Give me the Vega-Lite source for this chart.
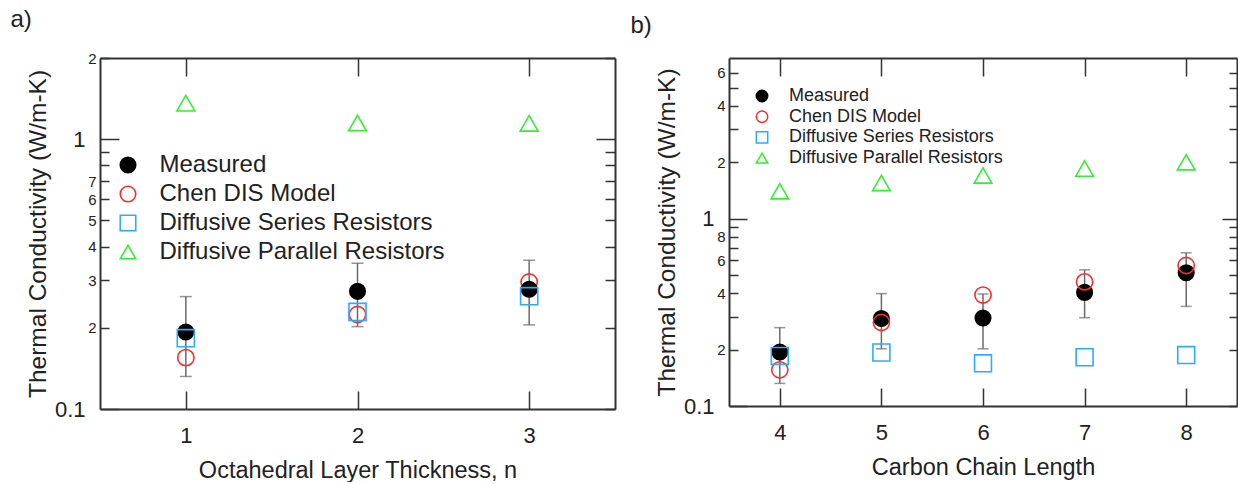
{
  "$schema": "https://vega.github.io/schema/vega-lite/v6.json",
  "background": "white",
  "padding": {"left": 10, "top": 8, "right": 0, "bottom": 0},
  "spacing": 14,
  "resolve": {"scale": {"shape": "independent", "stroke": "independent", "fill": "independent", "size": "independent"}, "legend": {"shape": "independent", "stroke": "independent", "fill": "independent", "size": "independent"}},
  "config": {
    "font": "Liberation Sans",
    "view": {"stroke": null},
    "axis": {"grid": false, "domainColor": "#333", "domainWidth": 2, "tickColor": "#333", "tickWidth": 1.5, "labelColor": "#222", "titleColor": "#222", "titleFontWeight": "normal", "labelFlush": false, "labelOverlap": false, "labelBound": false},
    "legend": {"labelLimit": 500},
    "title": {"fontWeight": "normal", "color": "#222", "fontSize": 24}
  },
  "datasets": {
    "a": [
      {"x": 1, "series": "Chen DIS Model", "k": 0.155},
      {"x": 1, "series": "Measured", "k": 0.193, "lo": 0.132, "hi": 0.261},
      {"x": 1, "series": "Diffusive Series Resistors", "k": 0.183},
      {"x": 1, "series": "Diffusive Parallel Resistors", "k": 1.36},
      {"x": 2, "series": "Chen DIS Model", "k": 0.224},
      {"x": 2, "series": "Measured", "k": 0.273, "lo": 0.202, "hi": 0.347},
      {"x": 2, "series": "Diffusive Series Resistors", "k": 0.229},
      {"x": 2, "series": "Diffusive Parallel Resistors", "k": 1.148},
      {"x": 3, "series": "Chen DIS Model", "k": 0.2955},
      {"x": 3, "series": "Measured", "k": 0.278, "lo": 0.205, "hi": 0.356},
      {"x": 3, "series": "Diffusive Series Resistors", "k": 0.262},
      {"x": 3, "series": "Diffusive Parallel Resistors", "k": 1.145}
    ],
    "b": [
      {"x": 4, "series": "Measured", "k": 0.194, "lo": 0.132, "hi": 0.262},
      {"x": 4, "series": "Chen DIS Model", "k": 0.156},
      {"x": 4, "series": "Diffusive Series Resistors", "k": 0.185},
      {"x": 4, "series": "Diffusive Parallel Resistors", "k": 1.40},
      {"x": 5, "series": "Measured", "k": 0.293, "lo": 0.202, "hi": 0.398},
      {"x": 5, "series": "Chen DIS Model", "k": 0.279},
      {"x": 5, "series": "Diffusive Series Resistors", "k": 0.193},
      {"x": 5, "series": "Diffusive Parallel Resistors", "k": 1.55},
      {"x": 6, "series": "Measured", "k": 0.295, "lo": 0.202, "hi": 0.396},
      {"x": 6, "series": "Chen DIS Model", "k": 0.391},
      {"x": 6, "series": "Diffusive Series Resistors", "k": 0.169},
      {"x": 6, "series": "Diffusive Parallel Resistors", "k": 1.70},
      {"x": 7, "series": "Measured", "k": 0.404, "lo": 0.296, "hi": 0.533},
      {"x": 7, "series": "Chen DIS Model", "k": 0.46},
      {"x": 7, "series": "Diffusive Series Resistors", "k": 0.182},
      {"x": 7, "series": "Diffusive Parallel Resistors", "k": 1.85},
      {"x": 8, "series": "Measured", "k": 0.514, "lo": 0.34, "hi": 0.657},
      {"x": 8, "series": "Chen DIS Model", "k": 0.562},
      {"x": 8, "series": "Diffusive Series Resistors", "k": 0.187},
      {"x": 8, "series": "Diffusive Parallel Resistors", "k": 2.0}
    ]
  },
  "hconcat": [
    {
      "title": {"text": "a)", "anchor": "start", "frame": "bounds", "dx": -15, "offset": 19},
      "width": 515,
      "height": 351,
      "data": {"name": "a"},
      "resolve": {"axis": {"x": "independent", "y": "independent"}},
      "layer": [
        {
          "transform": [{"filter": "datum.series == 'Measured'"}],
          "mark": {"type": "errorbar", "ticks": {"size": 12, "color": "#6a6a6a", "thickness": 1.5}, "rule": {"color": "#6a6a6a", "strokeWidth": 1.5}},
          "encoding": {
            "x": {"field": "x", "type": "quantitative", "axis": null, "scale": {"domain": [0.5, 3.5], "nice": false, "zero": false}},
            "y": {"field": "lo", "type": "quantitative", "axis": null, "scale": {"type": "log", "domain": [0.1, 2], "nice": false}},
            "y2": {"field": "hi"}
          }
        },
        {
          "mark": {"type": "point", "strokeWidth": 1.6, "opacity": 1},
          "encoding": {
            "x": {"field": "x", "type": "quantitative", "axis": {"orient": "bottom", "values": [1, 2, 3], "format": "d", "labelFontSize": 22, "tickSize": -18, "labelPadding": 34, "title": "Octahedral Layer Thickness, n", "titleFontSize": 23.5, "titlePadding": 12}},
            "y": {"field": "k", "type": "quantitative", "axis": {"orient": "left", "values": [0.2, 0.3, 0.4, 0.5, 0.6, 0.7, 0.8, 0.9, 2], "labelExpr": "datum.value == 2 ? '2' : datum.value > 0.75 ? '' : '' + round(datum.value * 10)", "labelFontSize": 15, "tickSize": -9, "labelPadding": 13, "title": null}},
            "shape": {"field": "series", "type": "nominal", "scale": {"domain": ["Measured", "Chen DIS Model", "Diffusive Series Resistors", "Diffusive Parallel Resistors"], "range": ["circle", "circle", "square", "triangle-up"]}, "legend": {"orient": "none", "legendX": 16, "legendY": 95, "title": null, "labelFontSize": 24, "labelColor": "#222", "symbolSize": 240, "symbolStrokeWidth": 1.6, "labelOffset": 19.5, "rowPadding": 5, "padding": 0, "labelLimit": 500}},
            "stroke": {"field": "series", "type": "nominal", "scale": {"domain": ["Measured", "Chen DIS Model", "Diffusive Series Resistors", "Diffusive Parallel Resistors"], "range": ["#000000", "#ff2a2a", "#2eaaff", "#33ee33"]}, "legend": {"orient": "none", "legendX": 16, "legendY": 95, "title": null, "labelFontSize": 24, "labelColor": "#222", "symbolSize": 240, "symbolStrokeWidth": 1.6, "labelOffset": 19.5, "rowPadding": 5, "padding": 0, "labelLimit": 500}},
            "fill": {"field": "series", "type": "nominal", "scale": {"domain": ["Measured", "Chen DIS Model", "Diffusive Series Resistors", "Diffusive Parallel Resistors"], "range": ["#000000", "transparent", "transparent", "transparent"]}, "legend": {"orient": "none", "legendX": 16, "legendY": 95, "title": null, "labelFontSize": 24, "labelColor": "#222", "symbolSize": 240, "symbolStrokeWidth": 1.6, "labelOffset": 19.5, "rowPadding": 5, "padding": 0, "labelLimit": 500}},
            "size": {"field": "series", "type": "nominal", "scale": {"domain": ["Diffusive Parallel Resistors", "Diffusive Series Resistors", "Chen DIS Model", "Measured"], "range": [320, 240, 165, 160]}, "legend": null}
          }
        },
        {
          "mark": {"type": "point", "opacity": 0},
          "encoding": {
            "x": {"field": "x", "type": "quantitative", "axis": {"orient": "top", "values": [1, 2, 3], "labels": false, "title": null, "tickSize": -18}},
            "y": {"field": "k", "type": "quantitative", "axis": {"orient": "right", "values": [0.1, 0.2, 0.3, 0.4, 0.5, 0.6, 0.7, 0.8, 0.9, 2], "labels": false, "title": null, "tickSize": -10}}
          }
        },
        {
          "mark": {"type": "point", "opacity": 0},
          "encoding": {
            "x": {"field": "x", "type": "quantitative", "axis": null},
            "y": {"field": "k", "type": "quantitative", "axis": {"orient": "left", "values": [0.1, 1], "labelExpr": "datum.value == 1 ? '1' : '0.1'", "labelFontSize": 22, "tickSize": -19, "labelPadding": 34, "domain": false, "title": "Thermal Conductivity (W/m-K)", "titleFontSize": 24.5, "titlePadding": 4}}
          }
        },
        {
          "mark": {"type": "point", "opacity": 0},
          "encoding": {
            "x": {"field": "x", "type": "quantitative", "axis": null},
            "y": {"field": "k", "type": "quantitative", "axis": {"orient": "right", "values": [1], "labels": false, "tickSize": -19, "domain": false, "title": null}}
          }
        }
      ]
    },
    {
      "title": {"text": "b)", "anchor": "start", "frame": "bounds", "dx": -24, "offset": 19},
      "width": 508,
      "height": 348,
      "data": {"name": "b"},
      "resolve": {"axis": {"x": "independent", "y": "independent"}},
      "layer": [
        {
          "transform": [{"filter": "datum.series == 'Measured'"}],
          "mark": {"type": "errorbar", "ticks": {"size": 11, "color": "#6a6a6a", "thickness": 1.5}, "rule": {"color": "#6a6a6a", "strokeWidth": 1.5}},
          "encoding": {
            "x": {"field": "x", "type": "quantitative", "axis": null, "scale": {"domain": [3.5, 8.5], "nice": false, "zero": false}},
            "y": {"field": "lo", "type": "quantitative", "axis": null, "scale": {"type": "log", "domain": [0.1, 7.2], "nice": false}},
            "y2": {"field": "hi"}
          }
        },
        {
          "mark": {"type": "point", "strokeWidth": 1.6, "opacity": 1},
          "encoding": {
            "x": {"field": "x", "type": "quantitative", "axis": {"orient": "bottom", "values": [4, 5, 6, 7, 8], "format": "d", "labelFontSize": 22, "tickSize": -18, "labelPadding": 34, "title": "Carbon Chain Length", "titleFontSize": 23.5, "titlePadding": 12}},
            "y": {"field": "k", "type": "quantitative", "axis": {"orient": "left", "values": [0.2, 0.3, 0.4, 0.5, 0.6, 0.7, 0.8, 0.9, 2, 3, 4, 5, 6], "labelExpr": "datum.value < 1 ? (round(datum.value * 10) % 2 == 0 ? '' + round(datum.value * 10) : '') : (datum.value % 2 == 0 ? '' + datum.value : '')", "labelFontSize": 15, "tickSize": -9, "labelPadding": 13, "title": null}},
            "shape": {"field": "series", "type": "nominal", "scale": {"domain": ["Measured", "Chen DIS Model", "Diffusive Series Resistors", "Diffusive Parallel Resistors"], "range": ["circle", "circle", "square", "triangle-up"]}, "legend": {"orient": "none", "legendX": 24, "legendY": 29, "title": null, "labelFontSize": 18, "labelColor": "#222", "symbolSize": 130, "symbolStrokeWidth": 1.5, "labelOffset": 18, "rowPadding": 2.7, "padding": 0, "labelLimit": 500}},
            "stroke": {"field": "series", "type": "nominal", "scale": {"domain": ["Measured", "Chen DIS Model", "Diffusive Series Resistors", "Diffusive Parallel Resistors"], "range": ["#000000", "#ff2a2a", "#2eaaff", "#33ee33"]}, "legend": {"orient": "none", "legendX": 24, "legendY": 29, "title": null, "labelFontSize": 18, "labelColor": "#222", "symbolSize": 130, "symbolStrokeWidth": 1.5, "labelOffset": 18, "rowPadding": 2.7, "padding": 0, "labelLimit": 500}},
            "fill": {"field": "series", "type": "nominal", "scale": {"domain": ["Measured", "Chen DIS Model", "Diffusive Series Resistors", "Diffusive Parallel Resistors"], "range": ["#000000", "transparent", "transparent", "transparent"]}, "legend": {"orient": "none", "legendX": 24, "legendY": 29, "title": null, "labelFontSize": 18, "labelColor": "#222", "symbolSize": 130, "symbolStrokeWidth": 1.5, "labelOffset": 18, "rowPadding": 2.7, "padding": 0, "labelLimit": 500}},
            "size": {"field": "series", "type": "nominal", "scale": {"domain": ["Diffusive Parallel Resistors", "Diffusive Series Resistors", "Chen DIS Model", "Measured"], "range": [310, 240, 165, 160]}, "legend": null}
          }
        },
        {
          "mark": {"type": "point", "opacity": 0},
          "encoding": {
            "x": {"field": "x", "type": "quantitative", "axis": {"orient": "top", "values": [4, 5, 6, 7, 8], "labels": false, "title": null, "tickSize": -18}},
            "y": {"field": "k", "type": "quantitative", "axis": {"orient": "right", "values": [0.1, 0.2, 0.3, 0.4, 0.5, 0.6, 0.7, 0.8, 0.9, 2, 3, 4, 5, 6], "labels": false, "title": null, "tickSize": -8}}
          }
        },
        {
          "mark": {"type": "point", "opacity": 0},
          "encoding": {
            "x": {"field": "x", "type": "quantitative", "axis": null},
            "y": {"field": "k", "type": "quantitative", "axis": {"orient": "left", "values": [0.1, 1], "labelExpr": "datum.value == 1 ? '1' : '0.1'", "labelFontSize": 22, "tickSize": -18, "labelPadding": 33, "domain": false, "title": "Thermal Conductivity (W/m-K)", "titleFontSize": 24.5, "titlePadding": 4}}
          }
        },
        {
          "mark": {"type": "point", "opacity": 0},
          "encoding": {
            "x": {"field": "x", "type": "quantitative", "axis": null},
            "y": {"field": "k", "type": "quantitative", "axis": {"orient": "right", "values": [1], "labels": false, "tickSize": -15, "domain": false, "title": null}}
          }
        }
      ]
    }
  ]
}
